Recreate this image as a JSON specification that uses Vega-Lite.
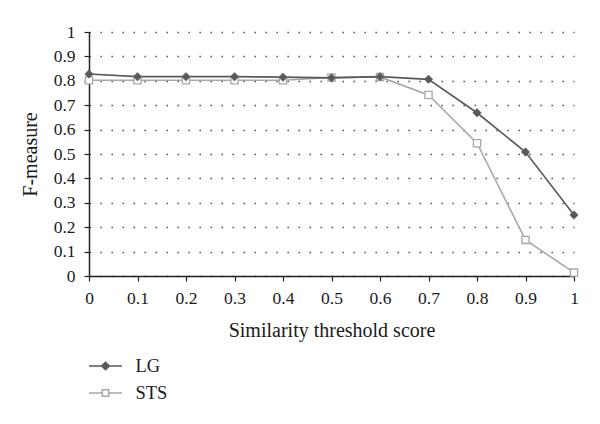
{
  "$schema": "https://vega.github.io/schema/vega-lite/v6.json",
  "autosize": "none",
  "width": 485,
  "height": 244,
  "padding": {"left": 89, "top": 32, "right": 26, "bottom": 148},
  "background": "white",
  "config": {
    "view": {"stroke": null},
    "font": "'Liberation Serif', 'Times New Roman', 'DejaVu Serif', serif",
    "axis": {
      "labelFont": "'Liberation Serif', 'Times New Roman', 'DejaVu Serif', serif",
      "titleFont": "'Liberation Serif', 'Times New Roman', 'DejaVu Serif', serif",
      "labelFontSize": 17.5,
      "titleFontSize": 20,
      "titleFontWeight": "normal",
      "labelColor": "#1a1a1a",
      "titleColor": "#1a1a1a",
      "domainColor": "#222222",
      "domainWidth": 1.5,
      "tickColor": "#222222",
      "tickWidth": 1.2,
      "tickSize": 5
    },
    "legend": {
      "labelFont": "'Liberation Serif', 'Times New Roman', 'DejaVu Serif', serif",
      "labelFontSize": 18.5,
      "labelColor": "#1a1a1a"
    }
  },
  "data": {
    "values": [
      {"score": 0, "series": "LG", "f": 0.828},
      {"score": 0.1, "series": "LG", "f": 0.817},
      {"score": 0.2, "series": "LG", "f": 0.817},
      {"score": 0.3, "series": "LG", "f": 0.817},
      {"score": 0.4, "series": "LG", "f": 0.815},
      {"score": 0.5, "series": "LG", "f": 0.812},
      {"score": 0.6, "series": "LG", "f": 0.817},
      {"score": 0.7, "series": "LG", "f": 0.806},
      {"score": 0.8, "series": "LG", "f": 0.669},
      {"score": 0.9, "series": "LG", "f": 0.508},
      {"score": 1, "series": "LG", "f": 0.25},
      {"score": 0, "series": "STS", "f": 0.802},
      {"score": 0.1, "series": "STS", "f": 0.802},
      {"score": 0.2, "series": "STS", "f": 0.802},
      {"score": 0.3, "series": "STS", "f": 0.802},
      {"score": 0.4, "series": "STS", "f": 0.802},
      {"score": 0.5, "series": "STS", "f": 0.814},
      {"score": 0.6, "series": "STS", "f": 0.816},
      {"score": 0.7, "series": "STS", "f": 0.742},
      {"score": 0.8, "series": "STS", "f": 0.544},
      {"score": 0.9, "series": "STS", "f": 0.148},
      {"score": 1, "series": "STS", "f": 0.014}
    ]
  },
  "encoding": {
    "x": {
      "field": "score",
      "type": "quantitative",
      "scale": {"domain": [0, 1], "nice": false, "zero": false},
      "axis": {
        "title": "Similarity threshold score",
        "values": [0, 0.1, 0.2, 0.3, 0.4, 0.5, 0.6, 0.7, 0.8, 0.9, 1],
        "format": "~g",
        "grid": false,
        "labelPadding": 8,
        "titlePadding": 14,
        "labelFlush": false
      }
    },
    "y": {
      "field": "f",
      "type": "quantitative",
      "scale": {"domain": [0, 1], "nice": false},
      "axis": {
        "title": "F-measure",
        "values": [0, 0.1, 0.2, 0.3, 0.4, 0.5, 0.6, 0.7, 0.8, 0.9, 1],
        "format": "~g",
        "grid": true,
        "gridColor": "#333333",
        "gridDash": [1.3, 9.7],
        "gridWidth": 1.3,
        "labelPadding": 9,
        "titlePadding": 13,
        "labelFlush": false
      }
    }
  },
  "layer": [
    {
      "transform": [{"filter": "datum.series === 'STS'"}],
      "mark": {"type": "line", "color": "#a8a8a8", "strokeWidth": 1.6}
    },
    {
      "transform": [{"filter": "datum.series === 'LG'"}],
      "mark": {"type": "line", "color": "#595959", "strokeWidth": 1.6}
    },
    {
      "transform": [{"filter": "datum.series === 'STS'"}],
      "mark": {"type": "point", "shape": "square", "size": 52, "filled": true, "fill": "white", "stroke": "#a8a8a8", "strokeWidth": 1.3, "opacity": 1}
    },
    {
      "transform": [{"filter": "datum.series === 'LG'"}],
      "mark": {"type": "point", "shape": "diamond", "size": 72, "filled": true, "fill": "#595959", "stroke": "#595959", "strokeWidth": 0.5, "opacity": 1}
    },
    {
      "transform": [{"filter": "datum.f < 0"}],
      "mark": {"type": "point", "filled": true, "size": 400, "strokeWidth": 1.5, "opacity": 1},
      "encoding": {
        "shape": {
          "field": "series",
          "type": "nominal",
          "scale": {
            "domain": ["LG", "STS"],
            "range": [
              "M-1.65,0H1.65M0,-0.38L0.38,0L0,0.38L-0.38,0Z",
              "M-1.65,0H-0.32M0.32,0H1.65M-0.32,-0.32H0.32V0.32H-0.32Z"
            ]
          },
          "legend": {
            "title": null,
            "orient": "none",
            "legendX": 5.5,
            "legendY": 323,
            "padding": 0,
            "rowPadding": 6,
            "labelOffset": 19,
            "symbolSize": 400,
            "symbolStrokeWidth": 1.5
          }
        },
        "fill": {
          "field": "series",
          "type": "nominal",
          "scale": {"domain": ["LG", "STS"], "range": ["#595959", "#ffffff"]},
          "legend": {
            "title": null,
            "orient": "none",
            "legendX": 5.5,
            "legendY": 323,
            "padding": 0,
            "rowPadding": 6,
            "labelOffset": 19,
            "symbolSize": 400,
            "symbolStrokeWidth": 1.5
          }
        },
        "stroke": {
          "field": "series",
          "type": "nominal",
          "scale": {"domain": ["LG", "STS"], "range": ["#595959", "#a8a8a8"]},
          "legend": {
            "title": null,
            "orient": "none",
            "legendX": 5.5,
            "legendY": 323,
            "padding": 0,
            "rowPadding": 6,
            "labelOffset": 19,
            "symbolSize": 400,
            "symbolStrokeWidth": 1.5
          }
        }
      }
    }
  ]
}
